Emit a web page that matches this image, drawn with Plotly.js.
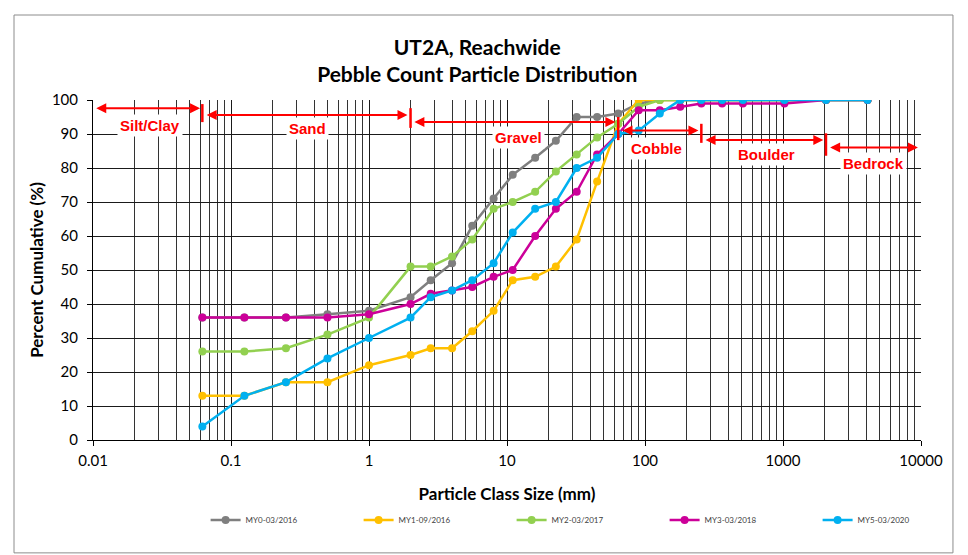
<!DOCTYPE html>
<html><head><meta charset="utf-8">
<script src="https://cdn.plot.ly/plotly-3.0.1.min.js"></script>
<style>html,body{margin:0;padding:0;background:#fff}#chart{width:968px;height:555px}</style>
</head><body><div id="chart"></div>
<script>
// Particle class sizes (mm)
const sizes = [0.062,0.125,0.25,0.5,1,2,2.8,4,5.6,8,11,16,22.6,32,45,64,90,128,180,256,362,512,1024,2048,4096];
// Percent cumulative per monitoring year
const my0 = [36,36,36,37,38,42,47,52,63,71,78,83,88,95,95,96,99,100,100,100,100,100,100,100,100];
const my1 = [13,13,17,17,22,25,27,27,32,38,47,48,51,59,76,93,100,100,100,100,100,100,100,100,100];
const my2 = [26,26,27,31,36,51,51,54,59,68,70,73,79,84,89,93,98,100,100,100,100,100,100,100,100];
const my3 = [36,36,36,36,37,40,43,44,45,48,50,60,68,73,84,90,97,97,98,99,99,99,99,100,100];
const my5 = [4,13,17,24,30,36,42,44,47,52,61,68,70,80,83,90,91,96,100,100,100,100,100,100,100];
const seriesNames = ['MY0-03/2016','MY1-09/2016','MY2-03/2017','MY3-03/2018','MY5-03/2020'];
const seriesValues = [my0,my1,my2,my3,my5];
const seriesColors = ['#7F7F7F','#FFC000','#92D050','#CC0099','#00B0F0'];

// Size-class annotation bands
const classNames = ['Silt/Clay','Sand','Gravel','Cobble','Boulder','Bedrock'];
const classArrowFrom = [0.0103,0.065,2.08,67,268,2140];
const classArrowTo   = [0.0597,1.9,61,244,1960,9500];
const classArrowY    = [97.6,95.6,93.5,91.0,88.2,86.0];
const classLabelX    = [0.0259,0.361,12.2,122,762,4560];
const classLabelY    = [92.4,91.5,89.1,85.8,84.0,81.2];
const boundaryX      = [0.062,2,64,256,2048];
const boundaryY0     = [93.5,91.8,88.2,87.4,83.6];
const boundaryY1     = [98.8,97.6,95.0,93.0,90.2];

const FONT = "Lato, 'Open Sans', sans-serif";
const RED = '#FF0000';

const traces = seriesNames.map((n,i)=>({
  type:'scatter', mode:'lines+markers', name:n,
  x:sizes, y:seriesValues[i],
  line:{color:seriesColors[i], width:2.5},
  marker:{color:seriesColors[i], size:8}
}));

const annotations = [];
const shapes = [];
classNames.forEach((c,i)=>{
  annotations.push({
    x:Math.log10(classArrowTo[i]), y:classArrowY[i],
    ax:Math.log10(classArrowFrom[i]), ay:classArrowY[i],
    xref:'x', yref:'y', axref:'x', ayref:'y',
    text:'', showarrow:true, arrowside:'end+start',
    arrowhead:2, startarrowhead:2, arrowsize:1, startarrowsize:1,
    arrowwidth:2, arrowcolor:RED, font:{size:1}, standoff:0, startstandoff:0
  });
  annotations.push({
    x:Math.log10(classLabelX[i]), y:classLabelY[i], xref:'x', yref:'y',
    text:'<b>'+c+'</b>', showarrow:false, bgcolor:'#ffffff', borderpad:2,
    font:{family:"'Liberation Sans', Arial, sans-serif", size:15, color:RED}
  });
});
boundaryX.forEach((b,i)=>{
  shapes.push({type:'line', xref:'x', yref:'y', x0:b, x1:b, y0:boundaryY0[i], y1:boundaryY1[i],
    line:{color:RED, width:2.5}});
});
// chart-area border
shapes.push({type:'rect', xref:'paper', yref:'paper', x0:-0.0954, x1:1.0386, y0:-0.332, y1:1.25,
  line:{color:'#8c8c8c', width:1}, layer:'below'});

const layout = {
  width:968, height:555,
  margin:{l:93, r:47, t:100, b:115},
  paper_bgcolor:'#ffffff', plot_bgcolor:'#ffffff',
  font:{family:FONT, color:'#000'},
  title:{text:'<b>UT2A, Reachwide<br>Pebble Count Particle Distribution</b>',
    x:0.493, xref:'container', xanchor:'center', y:0.901, yanchor:'middle',
    font:{size:21, family:FONT, color:'#000'}},
  xaxis:{type:'log', range:[-2,4],
    tickvals:[0.01,0.1,1,10,100,1000,10000], ticktext:['0.01','0.1','1','10','100','1000','10000'],
    showgrid:true, gridcolor:'#1a1a1a', gridwidth:1,
    minor:{showgrid:true, gridcolor:'#333333', gridwidth:1, tickvals:(function(){const a=[];for(let e=-2;e<4;e++){for(let d=2;d<=9;d++)a.push(d*Math.pow(10,e));}return a;})(), ticks:''},
    showline:true, linecolor:'#000', linewidth:1, ticks:'outside', ticklen:5, tickcolor:'#000',
    ticklabelstandoff:2,
    tickfont:{size:15, family:FONT}, zeroline:false,
    title:{text:'<b>Particle Class Size (mm)</b>', font:{size:17, family:FONT}, standoff:20}},
  yaxis:{range:[0,100], dtick:10, showgrid:true, gridcolor:'#1a1a1a', gridwidth:1,
    showline:true, linecolor:'#000', linewidth:1, ticks:'outside', ticklen:5, tickcolor:'#000',
    ticklabelstandoff:6, zeroline:false,
    tickfont:{size:15, family:FONT},
    title:{text:'<b>Percent Cumulative (%)</b>', font:{size:17, family:FONT}, standoff:3}},
  showlegend:true,
  legend:{orientation:'h', xref:'container', yref:'container', x:0.2124, xanchor:'left', y:1-520/555, yanchor:'middle',
    entrywidth:108, entrywidthmode:'pixels', font:{size:8, family:FONT, color:'#404040'},
    bgcolor:'rgba(0,0,0,0)'},
  annotations:annotations, shapes:shapes
};
Plotly.newPlot('chart', traces, layout, {displayModeBar:false, staticPlot:true});
</script></body></html>
